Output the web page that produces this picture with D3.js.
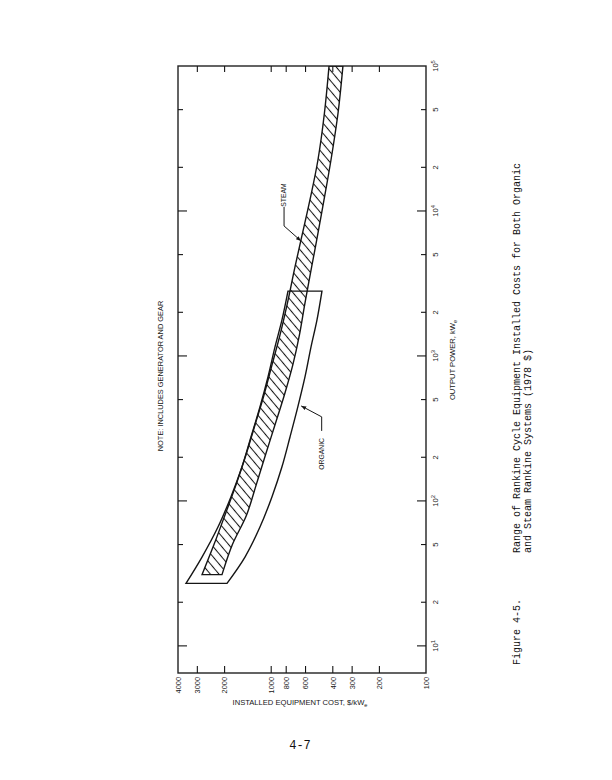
<!DOCTYPE html>
<html><head><meta charset="utf-8">
<script src="https://cdn.jsdelivr.net/npm/d3@7"></script>
<style>body{margin:0;background:#fff}svg{display:block}</style>
</head><body>
<script>
// ---- data ----
const costTicks = [100, 200, 300, 400, 600, 800, 1000, 2000, 3000, 4000];
const costTickLabels = ["100", "200", "300", "400", "600", "800", "1000", "2000", "3000", "4000"];
const powerTicks = [10, 20, 50, 100, 200, 500, 1000, 2000, 5000, 10000, 20000, 50000, 100000];
const powerTickBase = ["10", "2", "5", "10", "2", "5", "10", "2", "5", "10", "2", "5", "10"];
const powerTickExp  = ["1", "", "", "2", "", "", "3", "", "", "4", "", "", "5"];

// ORGANIC range (output power kWe, installed cost $/kWe)
const organicPower    = [27, 41, 66, 107, 172, 276, 445, 716, 1154, 1772, 2800];
const organicHighCost = [3551, 2799, 2207, 1818, 1544, 1351, 1182, 1049, 945, 852, 779];
const organicLowCost  = [1930, 1477, 1182, 988, 852, 756, 673, 605, 553, 506, 470];

// STEAM range (hatched)
const steamPower    = [31, 50, 80, 129, 208, 334, 538, 867, 1396, 2247, 4111, 6310, 11910, 22470, 47420, 100000];
const steamHighCost = [2799, 2342, 1988, 1688, 1455, 1273, 1113, 988, 877, 790, 702, 642, 562, 499, 453, 423];
const steamLowCost  = [2079, 1781, 1442, 1250, 1088, 946, 822, 725, 657, 608, 548, 508, 456, 411, 370, 344];

// label anchors (data space)
const steamLabel   = {text: "STEAM",   power: 12880, cost: 802};
const steamLeader  = [[10660, 826], [7882, 826], [6210, 642]];
const organicLabel = {text: "ORGANIC", power: 211, cost: 456};
const organicLeader = [[304, 472], [380, 472], [452, 640]];

const W = 612, H = 780;
const ink = "#151515";
const sans = "'Liberation Sans', Arial, Helvetica, sans-serif";
const mono = "'Liberation Mono', 'Courier New', monospace";

const svg = d3.select("body").append("svg").attr("width", W).attr("height", H)
  .style("background", "#fff");

// rotated chart: cost runs horizontally (high on the left), power vertically (high on top)
const x = d3.scaleLog().domain([100, 4000]).range([426, 178]);
const y = d3.scaleLog().domain([6.5, 100000]).range([673, 66]);

const defs = svg.append("defs");
defs.append("clipPath").attr("id", "plotclip").append("rect")
  .attr("x", x(4000)).attr("y", y(100000)).attr("width", x(100) - x(4000)).attr("height", y(6.5) - y(100000));
const pat = defs.append("pattern").attr("id", "hatch").attr("patternUnits", "userSpaceOnUse")
  .attr("width", 10).attr("height", 6.6).attr("patternTransform", "rotate(50)");
pat.append("line").attr("x1", 0).attr("x2", 10).attr("y1", 3.3).attr("y2", 3.3)
  .attr("stroke", ink).attr("stroke-width", 1.05);

// frame
svg.append("rect").attr("x", x(4000)).attr("y", y(100000))
  .attr("width", x(100) - x(4000)).attr("height", y(6.5) - y(100000))
  .attr("fill", "none").attr("stroke", "#222").attr("stroke-width", 1.4);

// cost ticks (bottom & top, inward)
const cg = svg.append("g").attr("stroke", ink).attr("stroke-width", 1.1);
costTicks.forEach(d => {
  if (d === 100 || d === 4000) return;
  cg.append("line").attr("x1", x(d)).attr("x2", x(d)).attr("y1", y(6.5)).attr("y2", y(6.5) - 7);
  cg.append("line").attr("x1", x(d)).attr("x2", x(d)).attr("y1", y(100000)).attr("y2", y(100000) + 6);
});
// power ticks (right & left, inward)
powerTicks.forEach((d, i) => {
  const major = powerTickExp[i] !== "";
  const len = major ? 9 : 5;
  if (d === 100000) return;
  cg.append("line").attr("x1", x(100)).attr("x2", x(100) - len).attr("y1", y(d)).attr("y2", y(d));
  cg.append("line").attr("x1", x(4000)).attr("x2", x(4000) + len).attr("y1", y(d)).attr("y2", y(d));
});

// cost tick labels (rotated)
svg.append("g").selectAll("text").data(costTicks).join("text")
  .attr("transform", d => `translate(${x(d) + 2.7},${y(6.5) + 4}) rotate(-90)`)
  .attr("text-anchor", "end").attr("font-family", sans).attr("font-size", 7.4).attr("fill", ink)
  .text((d, i) => costTickLabels[i]);

// power tick labels (rotated)
const pl = svg.append("g").selectAll("text").data(powerTicks).join("text")
  .attr("transform", d => `translate(${x(100) + 12},${y(d)}) rotate(-90)`)
  .attr("text-anchor", "middle").attr("font-family", sans).attr("font-size", 7.6).attr("fill", ink);
pl.append("tspan").text((d, i) => powerTickBase[i]);
pl.append("tspan").attr("dy", -3).attr("font-size", 5.8).text((d, i) => powerTickExp[i]);

// axis titles
const t1 = svg.append("text").attr("transform", `translate(${x(100) + 29},360) rotate(-90)`)
  .attr("text-anchor", "middle").attr("font-family", sans).attr("font-size", 7.6).attr("fill", ink);
t1.append("tspan").text("OUTPUT POWER, kW");
t1.append("tspan").attr("dy", 2).attr("font-size", 5.6).text("e");

const t2 = svg.append("text").attr("x", 300).attr("y", 705)
  .attr("text-anchor", "middle").attr("font-family", sans).attr("font-size", 7.6).attr("fill", ink);
t2.append("tspan").text("INSTALLED EQUIPMENT COST, $/kW");
t2.append("tspan").attr("dy", 2).attr("font-size", 5.6).text("e");

svg.append("text").attr("transform", `translate(${x(4000) - 15},376) rotate(-90)`)
  .attr("text-anchor", "middle").attr("font-family", sans).attr("font-size", 7.4).attr("fill", ink)
  .text("NOTE:  INCLUDES GENERATOR AND GEAR");

// bands
const line = d3.line().x(d => x(d[1])).y(d => y(d[0])).curve(d3.curveCatmullRom.alpha(0.5));
function bandPath(power, high, low) {
  const hi = power.map((p, i) => [p, high[i]]);
  const lo = power.map((p, i) => [p, low[i]]).reverse();
  return line(hi) + "L" + line(lo).slice(1) + "Z";
}
const plot = svg.append("g").attr("clip-path", "url(#plotclip)");
plot.append("path").attr("d", bandPath(steamPower, steamHighCost, steamLowCost))
  .attr("fill", "url(#hatch)").attr("stroke", ink).attr("stroke-width", 1.4).attr("stroke-linejoin", "miter");
plot.append("path").attr("d", bandPath(organicPower, organicHighCost, organicLowCost))
  .attr("fill", "none").attr("stroke", ink).attr("stroke-width", 1.4).attr("stroke-linejoin", "miter");

// labels + leaders
defs.append("marker").attr("id", "arr").attr("viewBox", "0 0 10 10").attr("refX", 10).attr("refY", 5)
  .attr("markerWidth", 5).attr("markerHeight", 5).attr("orient", "auto")
  .append("path").attr("d", "M0,1L10,5L0,9Z").attr("fill", ink);
const leader = d3.line().x(d => x(d[1])).y(d => y(d[0]));
[[steamLabel, steamLeader], [organicLabel, organicLeader]].forEach(([lab, ld]) => {
  svg.append("text").attr("transform", `translate(${x(lab.cost)},${y(lab.power)}) rotate(-90)`)
    .attr("text-anchor", "middle").attr("font-family", sans).attr("font-size", 6.8).attr("fill", ink)
    .text(lab.text);
  svg.append("path").attr("d", leader(ld)).attr("fill", "none").attr("stroke", ink)
    .attr("stroke-width", 1).attr("marker-end", "url(#arr)");
});

// caption (rotated)
const cap = svg.append("g").attr("font-family", mono).attr("font-size", 10).attr("fill", "#111");
cap.append("text").attr("transform", "translate(520,665) rotate(-90)").text("Figure 4-5.");
cap.append("text").attr("transform", "translate(520,553) rotate(-90)")
  .text("Range of Rankine Cycle Equipment Installed Costs for Both Organic");
cap.append("text").attr("transform", "translate(531,553) rotate(-90)")
  .text("and Steam Rankine Systems (1978 $)");

svg.append("text").attr("x", 300).attr("y", 749).attr("text-anchor", "middle")
  .attr("font-family", mono).attr("font-size", 12).attr("fill", "#111").text("4-7");
</script>
</body></html>
